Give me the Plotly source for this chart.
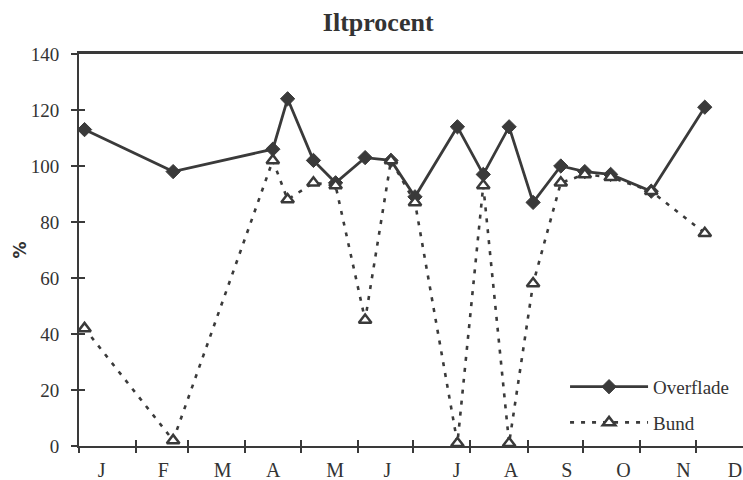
import plotly.graph_objects as go

# Sampling dates as day of year, shared by both depths
sample_day = [3, 51, 105, 113, 127, 139, 155, 169, 182, 205, 219, 233, 246, 261, 274, 288, 310, 339]

# Oxygen saturation (%) at the surface and at the bottom
overflade = [113, 98, 106, 124, 102, 94, 103, 102, 89, 114, 97, 114, 87, 100, 98, 97, 91, 121]
bund = [42, 2, 102, 88, 94, 93, 45, 102, 87, 1, 93, 1, 58, 94, 97, 96, 91, 76]

month_labels = ["J", "F", "M", "A", "M", "J", "J", "A", "S", "O", "N", "D"]
month_start_day = [0, 31, 59, 90, 120, 151, 181, 212, 243, 273, 304, 334]
y_ticks = [0, 20, 40, 60, 80, 100, 120, 140]

# axis layout constants
month_label_day = [12.3, 45.7, 77.8, 105.2, 138.7, 167.1, 204.6, 234.0, 264.2, 294.9, 327.4, 355.4]
x_range = [0, 359.7]
y_range = [0, 140]

INK = "#333333"
LINE = "#3a3a3a"
SERIF = "Liberation Serif, Times New Roman, serif"

fig = go.Figure()

fig.add_trace(go.Scatter(
    x=sample_day, y=overflade, name="Overflade", mode="lines+markers",
    line=dict(color=LINE, width=2.8),
    marker=dict(symbol="diamond", size=11, color=LINE, line=dict(color=LINE, width=1)),
    legendgroup="a",
))
fig.add_trace(go.Scatter(
    x=sample_day, y=bund, name="Bund", mode="lines+markers",
    line=dict(color=LINE, width=2.6, dash="4px,7px"),
    marker=dict(symbol="triangle-up", size=11, color="white", line=dict(color=LINE, width=2.5)),
    legendgroup="b",
))

# empty carriers so the overlaid tick/frame axes get drawn
for xa, ya in [("x2", "y"), ("x3", "y"), ("x4", "y"), ("x", "y2")]:
    fig.add_trace(go.Scatter(x=[None], y=[None], xaxis=xa, yaxis=ya, mode="markers",
                             showlegend=False, hoverinfo="skip"))

tick_common = dict(range=x_range, showgrid=False, zeroline=False, fixedrange=True,
                   automargin=False)

fig.update_layout(
    width=743, height=480,
    margin=dict(l=79, r=0, t=54, b=34, autoexpand=False),
    paper_bgcolor="white", plot_bgcolor="white",
    title=dict(text="<b>Iltprocent</b>", x=0.509, xref="container", xanchor="center",
               y=1 - 21.7 / 480, yref="container", yanchor="middle",
               font=dict(family=SERIF, size=26, color=INK)),
    showlegend=True,
    legend=dict(x=0.732, y=0.105, xanchor="left", yanchor="middle",
                bgcolor="rgba(0,0,0,0)", borderwidth=0, itemwidth=78,
                traceorder="grouped", tracegroupgap=8,
                font=dict(family=SERIF, size=19, color=INK)),
    # month labels on the bottom axis
    xaxis=dict(**tick_common, showline=True, linecolor=LINE, linewidth=2,
               tickmode="array", tickvals=month_label_day, ticktext=month_labels,
               ticks="", ticklabelstandoff=5, ticklabeloverflow="allow",
               tickfont=dict(family=SERIF, size=20, color=INK)),
    # month boundaries, ticks crossing the axis line
    xaxis2=dict(**tick_common, overlaying="x", anchor="y", side="bottom",
                tickmode="array", tickvals=month_start_day, ticks="outside",
                ticklen=6, tickwidth=1.5, tickcolor=LINE, showticklabels=False, showline=False),
    xaxis3=dict(**tick_common, overlaying="x", anchor="y", side="bottom",
                tickmode="array", tickvals=month_start_day, ticks="inside",
                ticklen=6, tickwidth=1.5, tickcolor=LINE, showticklabels=False, showline=False),
    # frame line along the top
    xaxis4=dict(**tick_common, overlaying="x", anchor="y", side="top",
                showline=True, linecolor=LINE, linewidth=2.5, ticks="", showticklabels=False),
    yaxis=dict(range=y_range, showgrid=False, zeroline=False, fixedrange=True, automargin=False,
               showline=True, linecolor=LINE, linewidth=2,
               tickmode="array", tickvals=y_ticks, ticks="outside", ticklen=6,
               tickwidth=1.5, tickcolor=LINE, ticklabelstandoff=8,
               tickfont=dict(family=SERIF, size=19, color=INK),
               title=dict(text="<b>%</b>", standoff=0,
                          font=dict(family="DejaVu Sans, sans-serif", size=17, color=INK))),
    yaxis2=dict(range=y_range, overlaying="y", anchor="x", side="left", automargin=False,
                showgrid=False, zeroline=False, fixedrange=True, showline=False,
                tickmode="array", tickvals=y_ticks, ticks="inside", ticklen=6,
                tickwidth=1.5, tickcolor=LINE, showticklabels=False),
)

fig.write_html("out.html")
